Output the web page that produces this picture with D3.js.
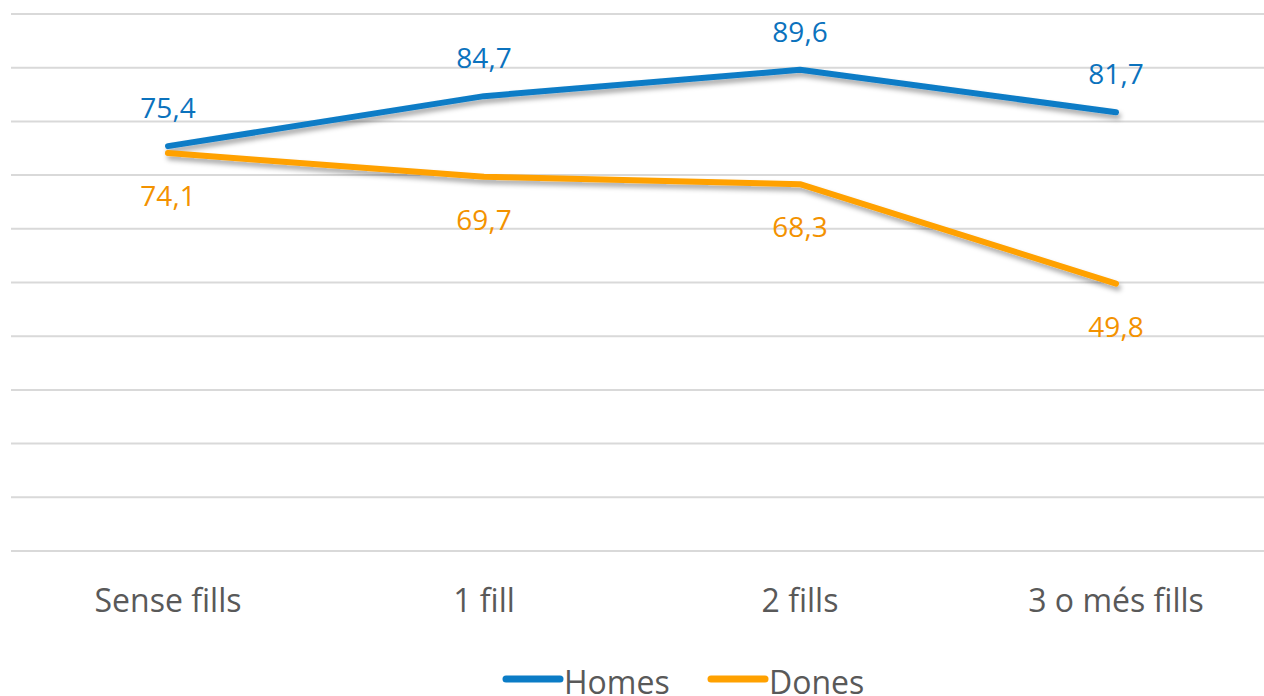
<!DOCTYPE html>
<html>
<head>
<meta charset="utf-8">
<script src="https://cdn.jsdelivr.net/npm/d3@7"></script>
<style>
  body { margin: 0; background: #fff; }
  svg { display: block; font-family: "Open Sans", sans-serif; }
</style>
</head>
<body>
<script>
// data
var categories = ["Sense fills", "1 fill", "2 fills", "3 o més fills"];
var homes = [75.4, 84.7, 89.6, 81.7];
var dones = [74.1, 69.7, 68.3, 49.8];
var yTicks = [0, 10, 20, 30, 40, 50, 60, 70, 80, 90, 100];

var series = [
    {name: "Homes", values: homes, color: "#0b7cc6", label: "#0b72bd", dy: -28},
    {name: "Dones", values: dones, color: "#ffa100", label: "#f39200", dy: 53}
];

var width = 1264, height = 696;

var svg = d3.select("body").append("svg")
    .attr("width", width)
    .attr("height", height);

// drop shadow for the lines
var defs = svg.append("defs");
var f = defs.append("filter")
    .attr("id", "shadow")
    .attr("x", "-5%").attr("y", "-20%")
    .attr("width", "110%").attr("height", "140%");
f.append("feDropShadow")
    .attr("dx", 2)
    .attr("dy", 4)
    .attr("stdDeviation", 2.5)
    .attr("flood-color", "#000")
    .attr("flood-opacity", 0.35);

var x = d3.scaleBand().domain(categories).range([10, 1274]);
var y = d3.scaleLinear().domain([0, 100]).range([551, 14]);

function cx(i) { return x(categories[i]) + x.bandwidth() / 2; }

// gridlines
svg.append("g")
    .selectAll("line")
    .data(yTicks)
    .enter().append("line")
    .attr("x1", 11)
    .attr("x2", width)
    .attr("y1", function(d) { return y(d); })
    .attr("y2", function(d) { return y(d); })
    .attr("stroke", "#d9d9d9")
    .attr("stroke-width", 2);

// category labels
svg.append("g")
    .selectAll("text")
    .data(categories)
    .enter().append("text")
    .attr("x", function(d) { return x(d) + x.bandwidth() / 2; })
    .attr("y", 612)
    .attr("text-anchor", "middle")
    .attr("fill", "#595959")
    .style("font-size", "32px")
    .text(function(d) { return d; });

var line = d3.line()
    .x(function(d, i) { return cx(i); })
    .y(function(d) { return y(d); });

// the lines
series.forEach(function(s) {
    svg.append("path")
        .attr("d", line(s.values))
        .attr("fill", "none")
        .attr("stroke", s.color)
        .attr("stroke-width", 6)
        .attr("stroke-linecap", "round")
        .attr("stroke-linejoin", "round")
        .attr("filter", "url(#shadow)");
});

// data labels
series.forEach(function(s) {
    svg.append("g")
        .selectAll("text")
        .data(s.values)
        .enter().append("text")
        .attr("x", function(d, i) { return cx(i); })
        .attr("y", function(d) { return y(d) + s.dy; })
        .attr("text-anchor", "middle")
        .attr("fill", s.label)
        .style("font-size", "28px")
        .text(function(d) { return d.toFixed(1).replace(".", ","); });
});

// legend
var legendX = [503, 708];
var legend = svg.append("g")
    .selectAll("g")
    .data(series)
    .enter().append("g")
    .attr("transform", function(d, i) { return "translate(" + legendX[i] + ",679)"; });

legend.append("line")
    .attr("x1", 3)
    .attr("x2", 57)
    .attr("stroke", function(d) { return d.color; })
    .attr("stroke-width", 7)
    .attr("stroke-linecap", "round");

legend.append("text")
    .attr("x", 61)
    .attr("y", 15)
    .attr("fill", "#595959")
    .style("font-size", "32px")
    .text(function(d) { return d.name; });
</script>
</body>
</html>
